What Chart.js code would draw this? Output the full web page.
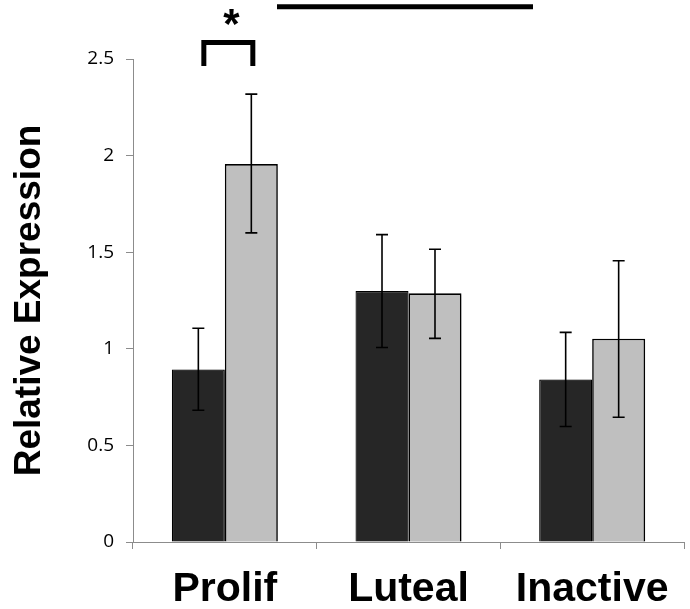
<!DOCTYPE html>
<html>
<head>
<meta charset="utf-8">
<script src="https://cdn.jsdelivr.net/npm/chart.js@4.4.1/dist/chart.umd.min.js"></script>
<style>
html,body{margin:0;padding:0;background:#fff;}
#wrap{width:690px;height:609px;position:relative;}
</style>
</head>
<body>
<div id="wrap"><canvas id="c" width="690" height="609"></canvas></div>
<script>
const categories = ["Prolif", "Luteal", "Inactive"];
const darkValues = [0.893, 1.299, 0.841];
const darkUpper = [1.106, 1.591, 1.085];
const darkLower = [0.682, 1.007, 0.598];
const lightValues = [1.956, 1.287, 1.052];
const lightUpper = [2.318, 1.515, 1.456];
const lightLower = [1.600, 1.054, 0.646];
const yTicks = [0, 0.5, 1, 1.5, 2, 2.5];
const yTitle = "Relative Expression";
const sigLabel = "*";

const errorBars = {
  id: 'errorBars',
  beforeDatasetsDraw(chart) {
    const ctx = chart.ctx;
    ctx.save();
    ctx.shadowColor = 'rgba(0,0,0,0.25)';
    ctx.shadowBlur = 3;
    ctx.shadowOffsetX = 1;
    ctx.shadowOffsetY = 1;
  },
  afterDatasetsDraw(chart) {
    const ctx = chart.ctx;
    ctx.restore();
    const y = chart.scales.y;
    const sets = [[darkUpper, darkLower], [lightUpper, lightLower]];
    ctx.save();
    ctx.strokeStyle = '#000';
    ctx.lineWidth = 1.6;
    sets.forEach((s, di) => {
      const meta = chart.getDatasetMeta(di);
      meta.data.forEach((bar, i) => {
        const x = bar.x;
        const yt = y.getPixelForValue(s[0][i]);
        const yb = y.getPixelForValue(s[1][i]);
        ctx.beginPath();
        ctx.moveTo(x, yt); ctx.lineTo(x, yb);
        ctx.moveTo(x - 6, yt); ctx.lineTo(x + 6, yt);
        ctx.moveTo(x - 6, yb); ctx.lineTo(x + 6, yb);
        ctx.stroke();
      });
    });
    // significance bracket over first category
    const b0 = chart.getDatasetMeta(0).data[0];
    const b1 = chart.getDatasetMeta(1).data[0];
    const xl = b0.x + 5.5, xr = b1.x + 1.5;
    ctx.lineWidth = 5;
    ctx.lineCap = 'butt';
    ctx.lineJoin = 'miter';
    ctx.beginPath();
    ctx.moveTo(xl, 66); ctx.lineTo(xl, 42.5); ctx.lineTo(xr, 42.5); ctx.lineTo(xr, 66);
    ctx.stroke();
    ctx.fillStyle = '#000';
    ctx.font = 'bold 42px "Liberation Sans", Arial, sans-serif';
    ctx.textAlign = 'center';
    ctx.textBaseline = 'alphabetic';
    ctx.fillText(sigLabel, (xl + xr) / 2 + 3, 38);
    // top line
    ctx.beginPath();
    ctx.moveTo(277, 6.8); ctx.lineTo(533, 6.8);
    ctx.stroke();
    ctx.restore();
  }
};

new Chart(document.getElementById('c'), {
  type: 'bar',
  data: {
    labels: categories,
    datasets: [
      { data: darkValues, backgroundColor: '#262626', borderColor: '#000', borderWidth: 1.2,
        categoryPercentage: 0.577, barPercentage: 1.0 },
      { data: lightValues, backgroundColor: '#bfbfbf', borderColor: '#000', borderWidth: 1.6,
        categoryPercentage: 0.577, barPercentage: 1.0 }
    ]
  },
  options: {
    responsive: false,
    animation: false,
    devicePixelRatio: 1,
    layout: { padding: { left: 0, top: 59, right: 6, bottom: 0 } },
    plugins: { legend: { display: false }, tooltip: { enabled: false } },
    scales: {
      x: {
        afterFit(s) { s.height = 67; },
        grid: { display: true, drawOnChartArea: false, drawTicks: true, tickLength: 7, color: '#8c8c8c', lineWidth: 1, offset: true },
        border: { display: true, color: '#8c8c8c', width: 1 },
        ticks: { color: '#000', padding: 16, font: { family: '"Liberation Sans", Arial, sans-serif', size: 41, weight: 'bold' } }
      },
      y: {
        min: 0, max: 2.5,
        afterFit(s) { s.width = 133; },
        afterBuildTicks(s) { s.ticks = yTicks.map(v => ({ value: v })); },
        grid: { display: true, drawOnChartArea: false, drawTicks: true, tickLength: 7, color: '#8c8c8c', lineWidth: 1 },
        border: { display: true, color: '#8c8c8c', width: 1 },
        ticks: { color: '#000', padding: 12, font: { family: '"Open Sans", sans-serif', size: 19 },
                 callback: v => String(v) },
        title: { display: true, text: yTitle, color: '#000', padding: { top: 8, bottom: 0 },
                 font: { family: '"Liberation Sans", Arial, sans-serif', size: 37, weight: 'bold' } }
      }
    }
  },
  plugins: [errorBars]
});
</script>
</body>
</html>
